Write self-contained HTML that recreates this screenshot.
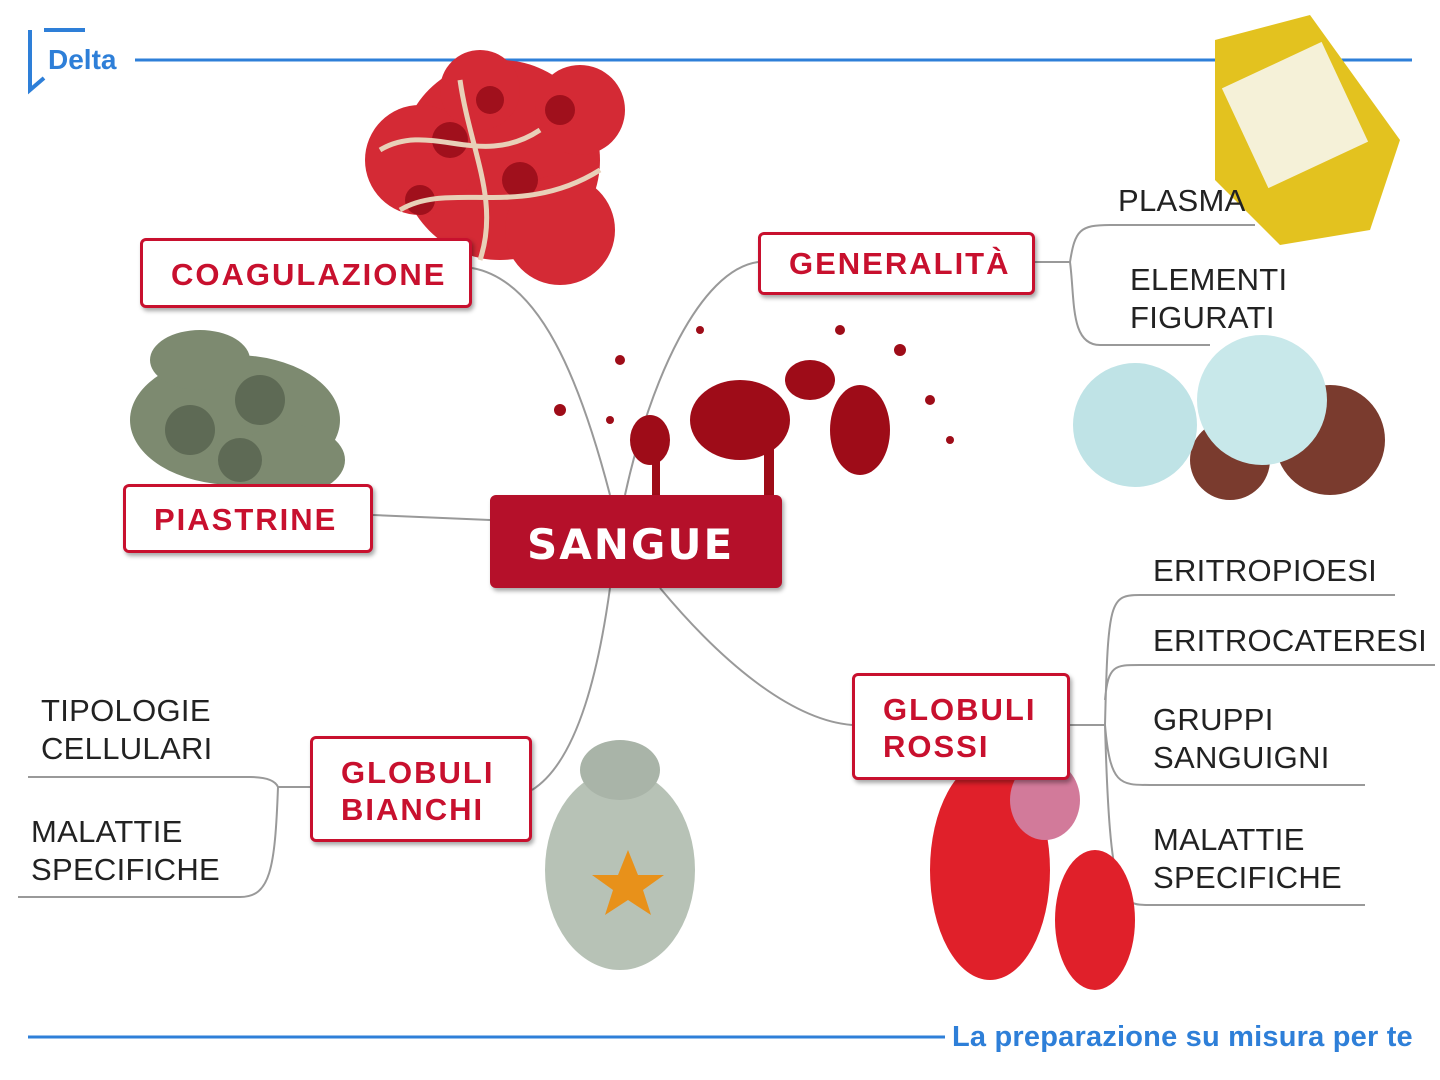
<!DOCTYPE html>
<html><head><meta charset="utf-8"><style>
body{margin:0;width:1440px;height:1080px;background:#fff;position:relative;overflow:hidden;font-family:"Liberation Sans",sans-serif}
.box{position:absolute;border:3px solid #c8102e;border-radius:6px;background:#fff;box-shadow:2px 3px 4px rgba(0,0,0,.35);color:#c8102e;font-weight:bold;font-size:31px;letter-spacing:2px;box-sizing:border-box}
.t{position:absolute;font-size:31px;color:#222;line-height:38px;letter-spacing:0.3px}
</style></head><body>
<svg width="1440" height="1080" style="position:absolute;left:0;top:0">
<line x1="135" y1="60" x2="1412" y2="60" stroke="#2e7fd8" stroke-width="3"/>
<line x1="28" y1="1037" x2="945" y2="1037" stroke="#2e7fd8" stroke-width="3"/>
<path d="M44 30 H85 M30 30 V90 L44 78" fill="none" stroke="#2e7fd8" stroke-width="4"/>
<g fill="none" stroke="#999" stroke-width="2">
<path d="M472 268 C540 280 580 380 610 495"/>
<path d="M758 262 C700 270 650 380 625 495"/>
<path d="M373 515 L490 520"/>
<path d="M610 588 C600 660 580 760 532 790"/>
<path d="M660 588 C720 660 790 720 852 725"/>
<path d="M1035 262 H1070 C1075 230 1080 225 1110 225 H1255 M1070 262 C1075 300 1070 345 1100 345 H1210"/>
<path d="M1070 725 H1105 C1108 600 1110 595 1140 595 H1395 M1105 700 C1108 665 1115 665 1140 665 H1435 M1105 725 C1110 785 1120 785 1150 785 H1365 M1105 725 C1110 905 1120 905 1150 905 H1365"/>
<path d="M310 787 H278 C275 780 265 777 250 777 H28 M278 787 C275 870 270 897 240 897 H18"/>
</g>
<g fill="#d42a35"><circle cx="500" cy="160" r="100"/><circle cx="420" cy="160" r="55"/><circle cx="560" cy="230" r="55"/><circle cx="480" cy="90" r="40"/><circle cx="580" cy="110" r="45"/></g>
<g fill="#a0101c"><circle cx="450" cy="140" r="18"/><circle cx="520" cy="180" r="18"/><circle cx="560" cy="110" r="15"/><circle cx="420" cy="200" r="15"/><circle cx="490" cy="100" r="14"/></g>
<path d="M380 150 C430 120 480 170 540 130 M400 210 C450 180 520 220 600 170 M460 80 C470 150 500 200 480 260" stroke="#e8d0b8" stroke-width="5" fill="none"/>
<g fill="#7d8a70"><ellipse cx="235" cy="420" rx="105" ry="65"/><ellipse cx="200" cy="360" rx="50" ry="30"/><ellipse cx="290" cy="460" rx="55" ry="35"/></g>
<g fill="#5e6a55"><circle cx="190" cy="430" r="25"/><circle cx="260" cy="400" r="25"/><circle cx="240" cy="460" r="22"/></g>
<g fill="#9e0c18"><ellipse cx="740" cy="420" rx="50" ry="40"/><ellipse cx="860" cy="430" rx="30" ry="45"/><ellipse cx="810" cy="380" rx="25" ry="20"/><ellipse cx="650" cy="440" rx="20" ry="25"/><rect x="652" y="440" width="8" height="80"/><rect x="764" y="440" width="10" height="140" rx="5"/><circle cx="620" cy="360" r="5"/><circle cx="700" cy="330" r="4"/><circle cx="900" cy="350" r="6"/><circle cx="930" cy="400" r="5"/><circle cx="560" cy="410" r="6"/><circle cx="610" cy="420" r="4"/><circle cx="840" cy="330" r="5"/><circle cx="950" cy="440" r="4"/></g>
<path d="M1215 40 L1310 15 L1400 140 L1370 230 L1280 245 L1215 180 Z" fill="#e3c21f"/>
<rect x="1240" y="60" width="110" height="110" fill="#f5f1d8" transform="rotate(-25 1295 115)"/>
<circle cx="1330" cy="440" r="55" fill="#7a3b2e"/><circle cx="1230" cy="460" r="40" fill="#7a3b2e"/>
<circle cx="1135" cy="425" r="62" fill="#bfe3e6"/><circle cx="1262" cy="400" r="65" fill="#c8e8ea"/>
<ellipse cx="620" cy="870" rx="75" ry="100" fill="#b7c2b6"/><ellipse cx="620" cy="770" rx="40" ry="30" fill="#a9b4a8"/>
<polygon points="628,850 638,875 664,875 643,890 651,915 628,900 605,915 613,890 592,875 618,875" fill="#e8911a"/>
<ellipse cx="990" cy="870" rx="60" ry="110" fill="#e0202a"/><ellipse cx="1095" cy="920" rx="40" ry="70" fill="#e0202a"/>
<ellipse cx="1045" cy="800" rx="35" ry="40" fill="#d27a9a"/>
</svg>
<div style="position:absolute;left:48px;top:44px;font-size:28px;font-weight:bold;color:#2e7fd8">Delta</div>
<div style="position:absolute;left:952px;top:1021px;font-size:29px;font-weight:bold;color:#2e7fd8;letter-spacing:0.2px">La preparazione su misura per te</div>
<div class="box" style="left:140px;top:238px;width:332px;height:70px;padding:16px 0 0 28px">COAGULAZIONE</div>
<div class="box" style="left:758px;top:232px;width:277px;height:63px;padding:11px 0 0 28px">GENERALITÀ</div>
<div class="box" style="left:123px;top:484px;width:250px;height:69px;padding:15px 0 0 28px">PIASTRINE</div>
<div class="box" style="left:490px;top:495px;width:292px;height:93px;background:#b5102a;border-color:#b5102a;color:#fff;font-size:42px;padding:22px 0 0 34px;font-family:'DejaVu Sans',sans-serif">SANGUE</div>
<div class="box" style="left:310px;top:736px;width:222px;height:106px;padding:15px 0 0 28px;line-height:37px">GLOBULI<br>BIANCHI</div>
<div class="box" style="left:852px;top:673px;width:218px;height:107px;padding:15px 0 0 28px;line-height:37px">GLOBULI<br>ROSSI</div>
<div class="t" style="left:1118px;top:182px">PLASMA</div>
<div class="t" style="left:1130px;top:261px">ELEMENTI<br>FIGURATI</div>
<div class="t" style="left:1153px;top:552px">ERITROPIOESI</div>
<div class="t" style="left:1153px;top:622px">ERITROCATERESI</div>
<div class="t" style="left:1153px;top:701px">GRUPPI<br>SANGUIGNI</div>
<div class="t" style="left:1153px;top:821px">MALATTIE<br>SPECIFICHE</div>
<div class="t" style="left:41px;top:692px">TIPOLOGIE<br>CELLULARI</div>
<div class="t" style="left:31px;top:813px">MALATTIE<br>SPECIFICHE</div>
</body></html>
